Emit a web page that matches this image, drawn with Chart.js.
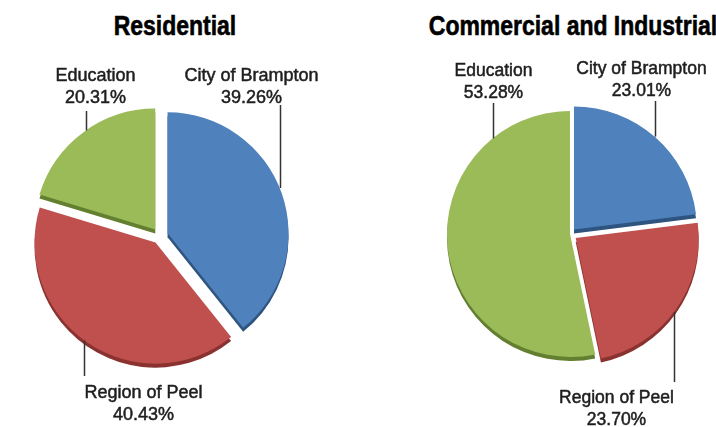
<!DOCTYPE html>
<html>
<head>
<meta charset="utf-8">
<script src="https://cdn.jsdelivr.net/npm/chart.js@4.4.1/dist/chart.umd.min.js"></script>
<style>
  html, body { margin: 0; padding: 0; background: #fff; overflow: hidden; }
  body { width: 716px; height: 427px; position: relative; }
  .title {
    position: absolute;
    top: 12px;
    width: 400px;
    font: bold 28px "Liberation Sans", Arial, sans-serif;
    line-height: 28px;
    color: #000;
    text-align: center;
    white-space: nowrap;
    transform: scaleX(0.82);
    -webkit-text-stroke: 0.6px #000;
  }
  canvas { position: absolute; top: 0; }
</style>
</head>
<body>
<div class="title" style="left:-25px">Residential</div>
<div class="title" style="left:373px">Commercial and Industrial</div>
<canvas id="residentialChart" width="358" height="427" style="left:0"></canvas>
<canvas id="commercialChart" width="358" height="427" style="left:358px"></canvas>
<script>
// Property tax share by sector
const categories = ["City of Brampton", "Region of Peel", "Education"];
const residentialShares = [39.26, 40.43, 20.31];
const commercialShares = [23.01, 23.70, 53.28];

const sliceColors = ["#4f81bd", "#c0504d", "#9bbb59"];
const sideColors = ["#2e5480", "#8a3230", "#637f30"];

// push slices out along their middle angle (exploded pie)
const explodePlugin = {
  id: "explode",
  afterDatasetUpdate(chart, args, opts) {
    const gaps = opts.gaps || [];
    args.meta.data.forEach((arc, i) => {
      const mid = (arc.startAngle + arc.endAngle) / 2;
      const d = gaps[i] || 0;
      arc.x += Math.cos(mid) * d;
      arc.y += Math.sin(mid) * d;
    });
  }
};

// darker copy under each slice, fakes the 3D edge
const depthPlugin = {
  id: "depth",
  beforeDatasetDraw(chart, args, opts) {
    const ctx = chart.ctx;
    ctx.save();
    args.meta.data.forEach((arc, i) => {
      const yy = arc.y + opts.depth;
      ctx.beginPath();
      ctx.moveTo(arc.x, yy);
      ctx.arc(arc.x, yy, arc.outerRadius, arc.startAngle, arc.endAngle);
      ctx.closePath();
      ctx.fillStyle = opts.colors[i];
      ctx.fill();
    });
    ctx.restore();
  }
};

// label + value with a vertical leader line
const calloutPlugin = {
  id: "callouts",
  afterDatasetDraw(chart, args, opts) {
    const ctx = chart.ctx;
    const values = chart.data.datasets[args.index].data;
    ctx.save();
    ctx.font = opts.font;
    ctx.textAlign = "center";
    ctx.textBaseline = "middle";
    args.meta.data.forEach((arc, i) => {
      const spot = opts.spots[i];
      const a = spot.angle * Math.PI / 180 - Math.PI / 2;
      const px = Math.round(arc.x + Math.cos(a) * arc.outerRadius) + 0.5;
      const py = arc.y + Math.sin(a) * arc.outerRadius;
      ctx.strokeStyle = "#333";
      ctx.lineWidth = 1.5;
      ctx.beginPath();
      ctx.moveTo(px, py);
      ctx.lineTo(px, spot.lineTo);
      ctx.stroke();
      // slightly heavier text, the original is a blurry semi-bold
      ctx.fillStyle = "#1e1e1e";
      ctx.strokeStyle = "#1e1e1e";
      ctx.lineWidth = 0.5;
      const lines = [chart.data.labels[i], values[i].toFixed(2) + "%"];
      lines.forEach((txt, k) => {
        ctx.fillText(txt, px + spot.dx, spot.textY + k * 22);
        ctx.strokeText(txt, px + spot.dx, spot.textY + k * 22);
      });
    });
    ctx.restore();
  }
};

function makePie(canvasId, shares, setup) {
  const el = document.getElementById(canvasId);
  return new Chart(el.getContext("2d"), {
    type: "pie",
    data: {
      labels: categories,
      datasets: [
        {
          data: shares,
          backgroundColor: sliceColors,
          borderWidth: 0,
          radius: setup.radius,
          clip: false,
        },
      ],
    },
    options: {
      responsive: false,
      animation: false,
      events: [],
      layout: { padding: setup.padding },
      plugins: {
        legend: { display: false },
        tooltip: { enabled: false },
        explode: { gaps: setup.gaps },
        depth: { depth: 4, colors: sideColors },
        callouts: { font: setup.font, spots: setup.spots },
      },
    },
    plugins: [explodePlugin, depthPlugin, calloutPlugin],
  });
}

makePie("residentialChart", residentialShares, {
  radius: 121,
  padding: { left: 0, right: 38, top: 50, bottom: 5 },
  gaps: [8, 8, 8],
  font: "18px 'Liberation Sans', Arial, sans-serif",
  spots: [
    { angle: 68, lineTo: 105, dx: -29, textY: 76 },
    { angle: 216, lineTo: 376, dx: 59, textY: 393 },
    { angle: 325, lineTo: 111, dx: 9, textY: 76 },
  ],
});

makePie("commercialChart", commercialShares, {
  radius: 123,
  padding: { left: 66, right: 0, top: 46, bottom: 5 },
  gaps: [6, 7, 0],
  font: "17.5px 'Liberation Sans', Arial, sans-serif",
  spots: [
    { angle: 41, lineTo: 101, dx: -14, textY: 69 },
    { angle: 127, lineTo: 382, dx: -58, textY: 398 },
    { angle: 321, lineTo: 103, dx: 0, textY: 71 },
  ],
});
</script>
</body>
</html>
